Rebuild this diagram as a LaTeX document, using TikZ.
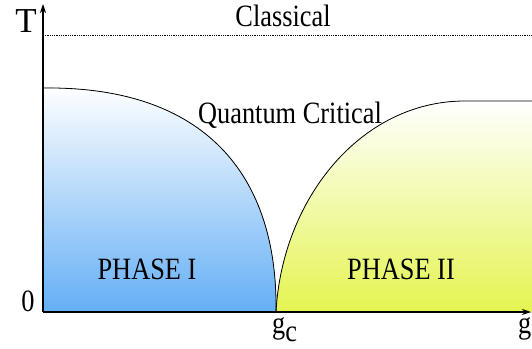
\documentclass[tikz,border=0pt]{standalone}
\usepackage{fontspec}
\setmainfont{Liberation Serif}
\usetikzlibrary{arrows.meta,positioning,calc}
\tikzset{>=Stealth}
\definecolor{phaseblue}{RGB}{100,175,245}
\definecolor{phaseyellow}{RGB}{228,244,80}
\newcommand{\narrow}[1]{\scalebox{0.85}[1]{#1}}

\begin{document}
\begin{tikzpicture}[
    x=1pt, y=-1pt,
    axis/.style={line width=1.1pt, ->, >={Stealth[length=9pt,width=6pt]}},
    border/.style={line width=0.8pt},
    label/.style={inner sep=0pt, anchor=base, font=\fontsize{31}{31}\selectfont},
    >=Stealth
  ]
    \useasboundingbox (0,0) rectangle (532,348);
    \coordinate (origin) at (43,312);
    \coordinate (ttop) at (43,4);
    \coordinate (gend) at (531,312);
    \coordinate (ltop) at (43,88);
    \coordinate (gc) at (276,312);
    \coordinate (rtop) at (465,101);
    \coordinate (rend) at (532,101);
    \coordinate (cl) at (43,35);
    \coordinate (cr) at (532,35);
    % phases
    \fill[top color=white, bottom color=phaseblue]
      (origin) -- (ltop) .. controls (205,86) and (278,175) .. (gc) -- cycle;
    \fill[top color=white, bottom color=phaseyellow]
      (gc) .. controls (282,200) and (360,101) .. (rtop) -- (rend) -- (532,312) -- cycle;
    \draw[border] (ltop) .. controls (205,86) and (278,175) .. (gc);
    \draw[border] (gc) .. controls (282,200) and (360,101) .. (rtop) -- (rend);
    \draw[densely dotted, line width=0.8pt] (cl) -- (cr);
    % axes
    \draw[axis] (origin) -- (ttop);
    \draw[axis] (origin) -- (gend);
    % labels
    \node[label, font=\fontsize{35}{35}\selectfont] (tlab) at (26,32) {T};
    \node[label] (zero) at (28,311) {\narrow{0}};
    \node[label] (classical) at (283,26) {\narrow{Classical}};
    \node[label] (qc) at (290,123) {\narrow{Quantum Critical}};
    \node[label] (ph1) at (147,279) {\narrow{PHASE I}};
    \node[label] (ph2) at (401,279) {\narrow{PHASE II}};
    \node[label, anchor=base west] (gclab) at (272,333) {\narrow{g\raisebox{-8pt}{c}}};
    \node[label, anchor=base west] (glab) at (518,333) {\narrow{g}};
  \end{tikzpicture}
\end{document}
